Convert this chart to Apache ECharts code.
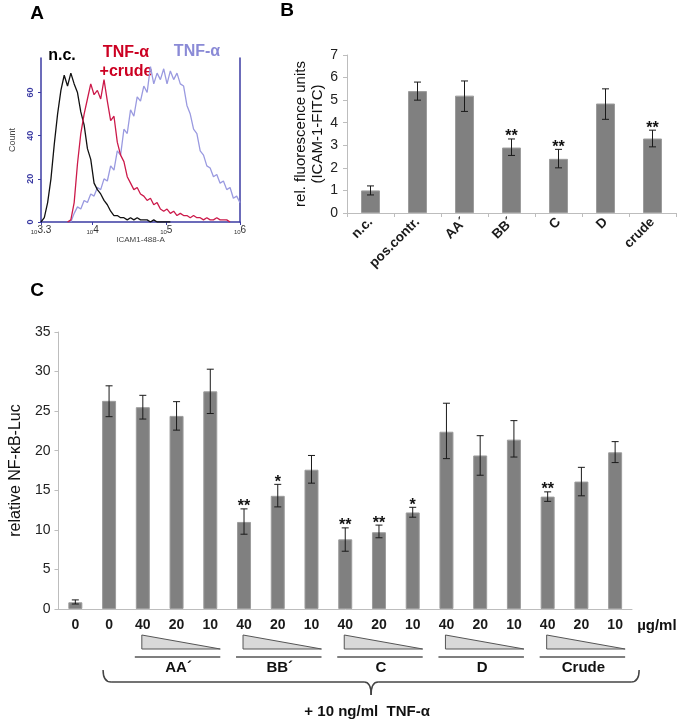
<!DOCTYPE html>
<html><head><meta charset="utf-8">
<script src="https://cdn.jsdelivr.net/npm/echarts@6/dist/echarts.min.js"></script>
<style>html,body{margin:0;padding:0;background:#fff}#c{width:680px;height:723px}</style>
</head><body><div id="c"></div>
<script>
const F = '"Liberation Sans", Arial, Helvetica, sans-serif';

// ---------- Panel A: flow cytometry histogram (x in log10 units) ----------
const histBins = [3.300,3.345,3.390,3.435,3.480,3.525,3.570,3.615,3.660,3.705,3.750,3.795,3.840,3.885,3.930,3.975,4.020,4.065,4.110,4.155,4.200,4.245,4.290,4.335,4.380,4.425,4.470,4.515,4.560,4.605,4.650,4.695,4.740,4.785,4.830,4.875,4.920,4.965,5.010,5.055,5.100,5.145,5.190,5.235,5.280,5.325,5.370,5.415,5.460,5.505,5.550,5.595,5.640,5.685,5.730,5.775,5.820,5.865,5.910,5.955,6.000];
const countsNC = [0,2,9,20,36,50,61,68,63,69, 64,60,51,45,34,29,18,15,13,10, 8,5,3,3,2,2,1,2,1,2, 1,1,1,0,1,0,0,0,0,0,
  null,null,null,null,null,null,null,null,null,null,null,null,null,null,null,null,null,null,null,null,null];
const countsCrude = [null,null,null,null,null,null,null,null,
  0,1,9,27,41,50,57,64,59,61, 57,66,56,47,49,37,31,28,21,18, 15,16,13,12,10,11,8,9,6,5, 6,4,5,3,4,3,3,2,3,2, 2,1,2,1,1,2,1,1,1,0,
  null,null,null];
const countsTNF = [null,null,null,null,null,null,null,null,null,
  0,4,7,6,10,9,13,12,16,15,20,19,26,24,33,31,43,41,52,49,58,56,63,60,72,64,69,66,71,64,70,66,69,64,63,54,50,43,41,33,31,26,25,21,22,18,19,15,16,11,12,9];
const xTickValsA = [3.3, 4, 5, 6];
const xTickExpA = ['3.3', '4', '5', '6'];
const yTickValsA = [0, 20, 40, 60];

// ---------- Panel B ----------
const catsB = ['n.c.', 'pos.contr.', 'AA\u00B4', 'BB\u00B4', 'C', 'D', 'crude'];
const valsB = [1.0, 5.4, 5.2, 2.9, 2.4, 4.85, 3.3];
const errLoB = [0.8, 5.0, 4.5, 2.55, 2.0, 4.15, 2.93];
const errHiB = [1.2, 5.8, 5.85, 3.28, 2.82, 5.5, 3.67];
const sigB = ['', '', '', '**', '**', '', '**'];

// ---------- Panel C ----------
const catsC = ['0','0','40','20','10','40','20','10','40','20','10','40','20','10','40','20','10'];
const valsC = [0.85, 26.3, 25.5, 24.4, 27.5, 11.0, 14.3, 17.6, 8.8, 9.7, 12.2, 22.4, 19.4, 21.4, 14.2, 16.1, 19.8];
const errLoC = [0.63, 24.3, 24.0, 22.6, 24.7, 9.45, 12.9, 15.9, 7.3, 9.0, 11.6, 19.0, 16.9, 19.2, 13.6, 14.3, 18.5];
const errHiC = [1.15, 28.2, 27.0, 26.2, 30.3, 12.65, 15.75, 19.4, 10.25, 10.6, 12.85, 26.0, 21.9, 23.8, 14.8, 17.9, 21.15];
const sigC = ['', '', '', '', '', '**', '*', '', '**', '**', '*', '', '', '', '**', '', ''];
const groupNames = ['AA\u00B4', 'BB\u00B4', 'C', 'D', 'Crude'];
const groupStart = [2, 5, 8, 11, 14];

const histData = arr => histBins.map((x, i) => arr[i] == null ? null : [x, arr[i]]).filter(d => d);

function errRender(sig, cap) {
  return function (params, api) {
    const x = api.value(0);
    const pLo = api.coord([x, api.value(1)]);
    const pHi = api.coord([x, api.value(2)]);
    const st = { stroke: '#1a1a1a', lineWidth: 1 };
    const ch = [
      { type: 'line', shape: { x1: pLo[0], y1: pLo[1], x2: pHi[0], y2: pHi[1] }, style: st },
      { type: 'line', shape: { x1: pLo[0] - cap, y1: pLo[1], x2: pLo[0] + cap, y2: pLo[1] }, style: st },
      { type: 'line', shape: { x1: pHi[0] - cap, y1: pHi[1], x2: pHi[0] + cap, y2: pHi[1] }, style: st }
    ];
    const m = sig[params.dataIndex];
    if (m) ch.push({ type: 'text', x: pHi[0], y: pHi[1] - 2,
      style: { text: m, align: 'center', verticalAlign: 'middle', fontSize: 16, fontWeight: 'bold', fontFamily: F, fill: '#111' } });
    return { type: 'group', children: ch };
  };
}

const blue = '#3b3ba3';
const chart = echarts.init(document.getElementById('c'));
const option = {
  animation: false,
  backgroundColor: '#fff',
  textStyle: { fontFamily: F },
  grid: [
    { left: 41, top: 58, width: 199, height: 164 },
    { left: 347, top: 55, width: 329, height: 158 },
    { left: 49, top: 332, width: 583, height: 277 }
  ],
  xAxis: [
    { gridIndex: 0, type: 'value', min: 3.3, max: 6,
      axisLine: { lineStyle: { color: blue, width: 1.5 } },
      axisTick: { show: true, customValues: xTickValsA, length: 3, lineStyle: { color: blue } },
      axisLabel: { customValues: xTickValsA, margin: 3,
        formatter: v => { const i = xTickValsA.findIndex(t => Math.abs(t - v) < 1e-6); return '{b|10}{s|' + (i >= 0 ? xTickExpA[i] : '') + '}'; },
        rich: { b: { fontSize: 6, color: '#333', fontFamily: F, verticalAlign: 'bottom', padding: [4, 0, 0, 0] }, s: { fontSize: 10, color: '#333', fontFamily: F } } },
      splitLine: { show: false },
      name: 'ICAM1-488-A', nameLocation: 'middle', nameGap: 8,
      nameTextStyle: { fontSize: 8, color: '#444', fontFamily: F } },
    { gridIndex: 1, type: 'category', data: catsB,
      axisLine: { lineStyle: { color: '#bdbdbd' } },
      axisTick: { show: true, length: 4, lineStyle: { color: '#bdbdbd' } },
      axisLabel: { interval: 0, rotate: 45, fontSize: 13.5, fontWeight: 'bold', color: '#1a1a1a', margin: 7, fontFamily: F } },
    { gridIndex: 2, type: 'category', data: catsC,
      axisLine: { lineStyle: { color: '#bdbdbd' } },
      axisTick: { show: false },
      axisLabel: { interval: 0, fontSize: 14, fontWeight: 'bold', color: '#1a1a1a', margin: 9, fontFamily: F } }
  ],
  yAxis: [
    { gridIndex: 0, type: 'value', min: 0, max: 76,
      axisLine: { show: true, lineStyle: { color: blue, width: 1.5 } },
      axisTick: { show: true, customValues: yTickValsA, length: 3, lineStyle: { color: blue } },
      axisLabel: { customValues: yTickValsA, rotate: 90, fontSize: 9, fontWeight: 'bold', color: blue, margin: 6, fontFamily: F },
      splitLine: { show: false },
      name: 'Count', nameLocation: 'middle', nameRotate: 90, nameGap: 24,
      nameTextStyle: { fontSize: 9, color: '#444', fontFamily: F } },
    { gridIndex: 0, type: 'value', position: 'right', min: 0, max: 76,
      axisLine: { show: true, lineStyle: { color: blue, width: 1.5 } },
      axisTick: { show: false }, axisLabel: { show: false }, splitLine: { show: false } },
    { gridIndex: 1, type: 'value', min: 0, max: 7, interval: 1,
      axisLine: { show: true, lineStyle: { color: '#bdbdbd' } },
      axisTick: { show: true, length: 4, lineStyle: { color: '#bdbdbd' } },
      axisLabel: { fontSize: 14, color: '#222', margin: 9, fontFamily: F },
      splitLine: { show: false },
      name: 'rel. fluorescence units\n(ICAM-1-FITC)', nameLocation: 'middle', nameRotate: 90, nameGap: 20,
      nameTextStyle: { fontSize: 15, color: '#111', lineHeight: 17, fontFamily: F } },
    { gridIndex: 2, type: 'value', min: 0, max: 35, interval: 5,
      axisLine: { show: true, lineStyle: { color: '#bdbdbd' } },
      axisTick: { show: true, length: 4, lineStyle: { color: '#bdbdbd' } },
      axisLabel: { fontSize: 14, color: '#222', margin: 8, fontFamily: F },
      splitLine: { show: false },
      name: 'relative NF-\u03BAB-Luc', nameLocation: 'middle', nameRotate: 90, nameGap: 22,
      nameTextStyle: { fontSize: 16, color: '#111', fontFamily: F } }
  ],
  series: [
    { type: 'line', xAxisIndex: 0, yAxisIndex: 0, data: histData(countsTNF), showSymbol: false,
      lineStyle: { color: '#9a9ae0', width: 1.3 }, z: 2 },
    { type: 'line', xAxisIndex: 0, yAxisIndex: 0, data: histData(countsNC), showSymbol: false,
      lineStyle: { color: '#111111', width: 1.3 }, z: 3 },
    { type: 'line', xAxisIndex: 0, yAxisIndex: 0, data: histData(countsCrude), showSymbol: false,
      lineStyle: { color: '#cc1a4a', width: 1.3 }, z: 4 },
    { type: 'bar', xAxisIndex: 1, yAxisIndex: 2, data: valsB, barWidth: 19,
      itemStyle: { color: '#808080', borderColor: '#9c9c9c', borderWidth: 1 } },
    { type: 'custom', xAxisIndex: 1, yAxisIndex: 2, renderItem: errRender(sigB, 3.5),
      data: catsB.map((c, i) => [i, errLoB[i], errHiB[i]]), z: 5 },
    { type: 'bar', xAxisIndex: 2, yAxisIndex: 3, data: valsC, barWidth: 14,
      itemStyle: { color: '#808080', borderColor: '#9c9c9c', borderWidth: 1 } },
    { type: 'custom', xAxisIndex: 2, yAxisIndex: 3, renderItem: errRender(sigC, 3.5),
      data: catsC.map((c, i) => [i, errLoC[i], errHiC[i]]), z: 5 }
  ]
};
chart.setOption(option);

// ---------- annotations ----------
const T = (text, x, y, size, color, extra) => Object.assign({ type: 'text', x: x, y: y,
  style: Object.assign({ text: text, fontSize: size, fontWeight: 'bold', fontFamily: F, fill: color, align: 'center', verticalAlign: 'middle' }, extra || {}) });
const g = [
  T('A', 37, 14, 19, '#000'),
  T('B', 287, 11, 19, '#000'),
  T('C', 37, 291, 19, '#000'),
  T('n.c.', 62, 56, 16, '#000'),
  T('TNF-\u03B1', 126, 53, 16, '#cc0022'),
  T('+crude', 126, 72, 16, '#cc0022'),
  T('TNF-\u03B1', 197, 52, 16, '#8a8ad6')
];
const px = i => chart.convertToPixel({ xAxisIndex: 2, yAxisIndex: 3 }, [i, 0]);
const y0 = px(0)[1];
const ln = { stroke: '#555', lineWidth: 1.5 };
groupStart.forEach((s, k) => {
  const a = px(s)[0], b = px(s + 2)[0];
  g.push({ type: 'polygon', shape: { points: [[a - 1, y0 + 26], [a - 1, y0 + 40], [b + 10, y0 + 40]] },
    style: { fill: '#d9d9d9', stroke: '#555', lineWidth: 1 } });
  g.push({ type: 'line', shape: { x1: a - 8, y1: y0 + 48, x2: b + 10, y2: y0 + 48 }, style: ln });
  g.push(T(groupNames[k], (a + b) / 2 + 2, y0 + 59, 15, '#111'));
});
const last = px(catsC.length - 1)[0];
g.push(T('\u00B5g/ml', last + 22, y0 + 17, 15, '#111', { align: 'left' }));
// brace
const L = px(1)[0] - 6, R = last + 24, M = (L + R) / 2;
const bt = y0 + 61, bh = y0 + 73, tip = y0 + 86;
const bs = { stroke: '#444', lineWidth: 1.5, fill: null };
g.push({ type: 'bezierCurve', shape: { x1: L, y1: bt, cpx1: L, cpy1: bh, x2: L + 8, y2: bh }, style: bs });
g.push({ type: 'line', shape: { x1: L + 8, y1: bh, x2: M - 7, y2: bh }, style: bs });
g.push({ type: 'bezierCurve', shape: { x1: M - 7, y1: bh, cpx1: M, cpy1: bh, x2: M, y2: tip }, style: bs });
g.push({ type: 'bezierCurve', shape: { x1: M + 7, y1: bh, cpx1: M, cpy1: bh, x2: M, y2: tip }, style: bs });
g.push({ type: 'line', shape: { x1: M + 7, y1: bh, x2: R - 8, y2: bh }, style: bs });
g.push({ type: 'bezierCurve', shape: { x1: R - 8, y1: bh, cpx1: R, cpy1: bh, x2: R, y2: bt }, style: bs });
g.push(T('+ 10 ng/ml  TNF-\u03B1', M - 4, y0 + 103, 15, '#111'));
chart.setOption({ graphic: g });
</script></body></html>
